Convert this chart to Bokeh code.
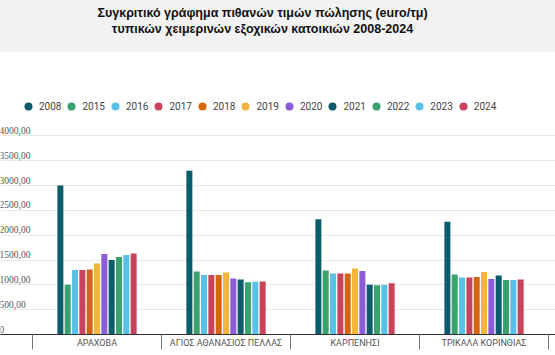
import numpy as np
from bokeh.plotting import figure
from bokeh.models import (ColumnDataSource, Div, FixedTicker, LabelSet, Legend,
                          LegendItem, Range1d)
from bokeh.layouts import column
from bokeh.transform import dodge
from bokeh.embed import file_html
from bokeh.resources import INLINE

# ---------------- data ----------------
title_lines = ["Συγκριτικό γράφημα πιθανών τιμών πώλησης (euro/τμ)",
               "τυπικών χειμερινών εξοχικών κατοικιών 2008-2024"]
categories = ["ΑΡΑΧΟΒΑ", "ΑΓΙΟΣ ΑΘΑΝΑΣΙΟΣ ΠΕΛΛΑΣ", "ΚΑΡΠΕΝΗΣΙ", "ΤΡΙΚΑΛΑ ΚΟΡΙΝΘΙΑΣ"]
years = ["2008", "2015", "2016", "2017", "2018", "2019", "2020", "2021", "2022", "2023", "2024"]
v2008 = [3000, 3300, 2320, 2270]
v2015 = [1000, 1270, 1290, 1210]
v2016 = [1300, 1200, 1230, 1150]
v2017 = [1300, 1200, 1230, 1150]
v2018 = [1310, 1200, 1230, 1160]
v2019 = [1430, 1250, 1330, 1260]
v2020 = [1620, 1130, 1280, 1120]
v2021 = [1500, 1110, 1000, 1190]
v2022 = [1560, 1050, 990, 1100]
v2023 = [1600, 1060, 1000, 1100]
v2024 = [1630, 1070, 1030, 1110]
series = [v2008, v2015, v2016, v2017, v2018, v2019, v2020, v2021, v2022, v2023, v2024]
y_ticks = [0, 500, 1000, 1500, 2000, 2500, 3000, 3500, 4000]
y_tick_labels = ["0", "500,00", "1000,00", "1500,00", "2000,00", "2500,00",
                 "3000,00", "3500,00", "4000,00"]

colors = ["#0d5c6b", "#3aa26e", "#5ac1e6", "#c8445b", "#d3660f", "#f5b53c",
          "#8c5bd7", "#0d5c6b", "#3aa26e", "#5ac1e6", "#c8445b"]

# ---------------- layout ----------------
W = 555
title_div = Div(
    text=("<div style=\"width:555px;height:52px;background:#f2f2f2;text-align:center;"
          "font-family:'Liberation Sans',Arial,sans-serif;font-weight:bold;font-size:12.5px;"
          "line-height:16px;color:#111;padding-top:5px;padding-right:30px;"
          "box-sizing:border-box;\">"
          + title_lines[0] + "<br>" + title_lines[1] + "</div>"),
    width=W, height=52, margin=(0, 0, 0, 0))

n = len(categories)
centers = list(np.arange(n) + 0.5)
seps = list(np.arange(n + 1).astype(float))

src_data = {"x": centers}
for yr, vals in zip(years, series):
    src_data["y" + yr] = vals
src = ColumnDataSource(src_data)

p = figure(width=W, height=303, output_backend="svg", toolbar_location=None,
           x_range=Range1d(-0.248, 4.054), y_range=Range1d(0, 5680),
           y_axis_location=None, min_border_left=0, min_border_right=0,
           min_border_top=0, min_border_bottom=21, margin=(0, 0, 0, 0))
p.outline_line_color = None
p.background_fill_color = "white"
p.border_fill_color = "white"

pitch = 0.0568
bw = 0.0465
for j, yr in enumerate(years):
    p.vbar(x=dodge("x", (j - (len(years) - 1) / 2) * pitch, range=p.x_range),
           top="y" + yr, width=bw, source=src, color=colors[j], line_color=None)

# grid
p.xgrid.visible = False
p.ygrid.ticker = FixedTicker(ticks=y_ticks)
p.ygrid.grid_line_color = "#e9e9e9"
p.ygrid.grid_line_width = 1

# x axis
ax = p.xaxis[0]
ax.ticker = FixedTicker(ticks=centers, minor_ticks=seps)
ax.major_label_overrides = {c: lab for c, lab in zip(centers, categories)}
ax.major_tick_line_color = None
ax.minor_tick_line_color = "#777777"
ax.minor_tick_in = 0
ax.minor_tick_out = 15
ax.axis_line_color = "#333333"
ax.major_label_standoff = -12
ax.major_label_text_font = "Roboto"
ax.major_label_text_font_size = "9px"
ax.major_label_text_color = "#555555"

# y labels inside plot
ysrc = ColumnDataSource({"y": y_ticks, "t": y_tick_labels})
p.add_layout(LabelSet(x=-1, y="y", text="t", source=ysrc, x_units="screen",
                      y_offset=2, text_baseline="bottom", text_align="left",
                      text_font="Roboto", text_font_size="9.5px", text_color="#555555"))

# legend with circle glyphs
items = []
for j, yr in enumerate(years):
    r = p.scatter(x=[-10], y=[-10], marker="circle", size=8, color=colors[j], line_color=None)
    items.append(LegendItem(label=yr, renderers=[r]))
leg = Legend(items=items, orientation="horizontal", location=(18, 218),
             glyph_width=20, glyph_height=20, label_height=20, label_standoff=1,
             spacing=0, padding=0, margin=0, background_fill_alpha=0,
             border_line_color=None, label_text_font="Roboto",
             label_text_font_size="10px", label_text_color="#444444")
p.add_layout(leg)

layout = column(title_div, p, spacing=0)

open("out.html", "w").write(file_html(layout, INLINE))
